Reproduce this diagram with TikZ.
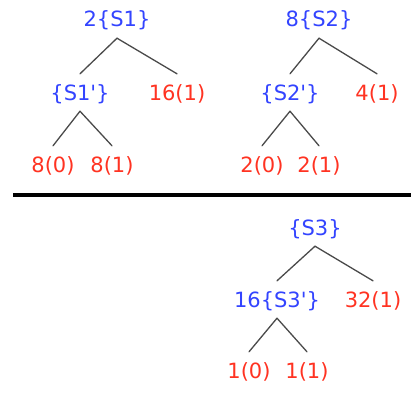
\documentclass[tikz,border=0pt]{standalone}
\usepackage{fontspec}
\setmainfont{DejaVu Sans}
\usepackage{tikz}
\usetikzlibrary{arrows.meta}
\definecolor{treeblue}{HTML}{3344FF}
\definecolor{treered}{HTML}{FF3322}
\definecolor{treeedge}{HTML}{4A4A4A}

\begin{document}
\begin{tikzpicture}[line cap=round,line join=round,
  font=\fontsize{21}{25}\selectfont,
  lbl/.style={anchor=base,inner xsep=0pt,inner ysep=7pt,text height=19pt,text depth=4pt},
  grp/.style={lbl,text=treeblue},
  leaf/.style={lbl,text=treered},
  branch/.style={treeedge,line width=1.3pt}]
\begin{scope}[x=1pt,y=-1pt]
  \path[use as bounding box] (0,0) rectangle (411,401);
  \fill[white] (0,0) rectangle (411,401);
  % first tree
  \node[grp] (s1) at (117,27) {2\{S1\}};
  \node[grp] (s1p) at (80,100) {\{S1\textquotesingle\}};
  \node[leaf] (s1r) at (177,100) {16(1)};
  \node[leaf] (s1a) at (53,172) {8(0)};
  \node[leaf] (s1b) at (112,172) {8(1)};
  \draw[branch] (s1.south)--(s1p.north);
  \draw[branch] (s1.south)--(s1r.north);
  \draw[branch] (s1p.south)--(s1a.north);
  \draw[branch] (s1p.south)--(s1b.north);
  % second tree
  \node[grp] (s2) at (319,27) {8\{S2\}};
  \node[grp] (s2p) at (290,100) {\{S2\textquotesingle\}};
  \node[leaf] (s2r) at (377,100) {4(1)};
  \node[leaf] (s2a) at (262,172) {2(0)};
  \node[leaf] (s2b) at (319,172) {2(1)};
  \draw[branch] (s2.south)--(s2p.north);
  \draw[branch] (s2.south)--(s2r.north);
  \draw[branch] (s2p.south)--(s2a.north);
  \draw[branch] (s2p.south)--(s2b.north);
  % divider
  \draw[line width=4pt,line cap=butt] (13,195.3)--(411,195.3);
  % third tree
  \node[grp] (s3) at (315,235) {\{S3\}};
  \node[grp] (s3p) at (277,307) {16\{S3\textquotesingle\}};
  \node[leaf] (s3r) at (373,307) {32(1)};
  \node[leaf] (s3a) at (249,378) {1(0)};
  \node[leaf] (s3b) at (307,378) {1(1)};
  \draw[branch] (s3.south)--(s3p.north);
  \draw[branch] (s3.south)--(s3r.north);
  \draw[branch] (s3p.south)--(s3a.north);
  \draw[branch] (s3p.south)--(s3b.north);
\end{scope}
\end{tikzpicture}
\end{document}
